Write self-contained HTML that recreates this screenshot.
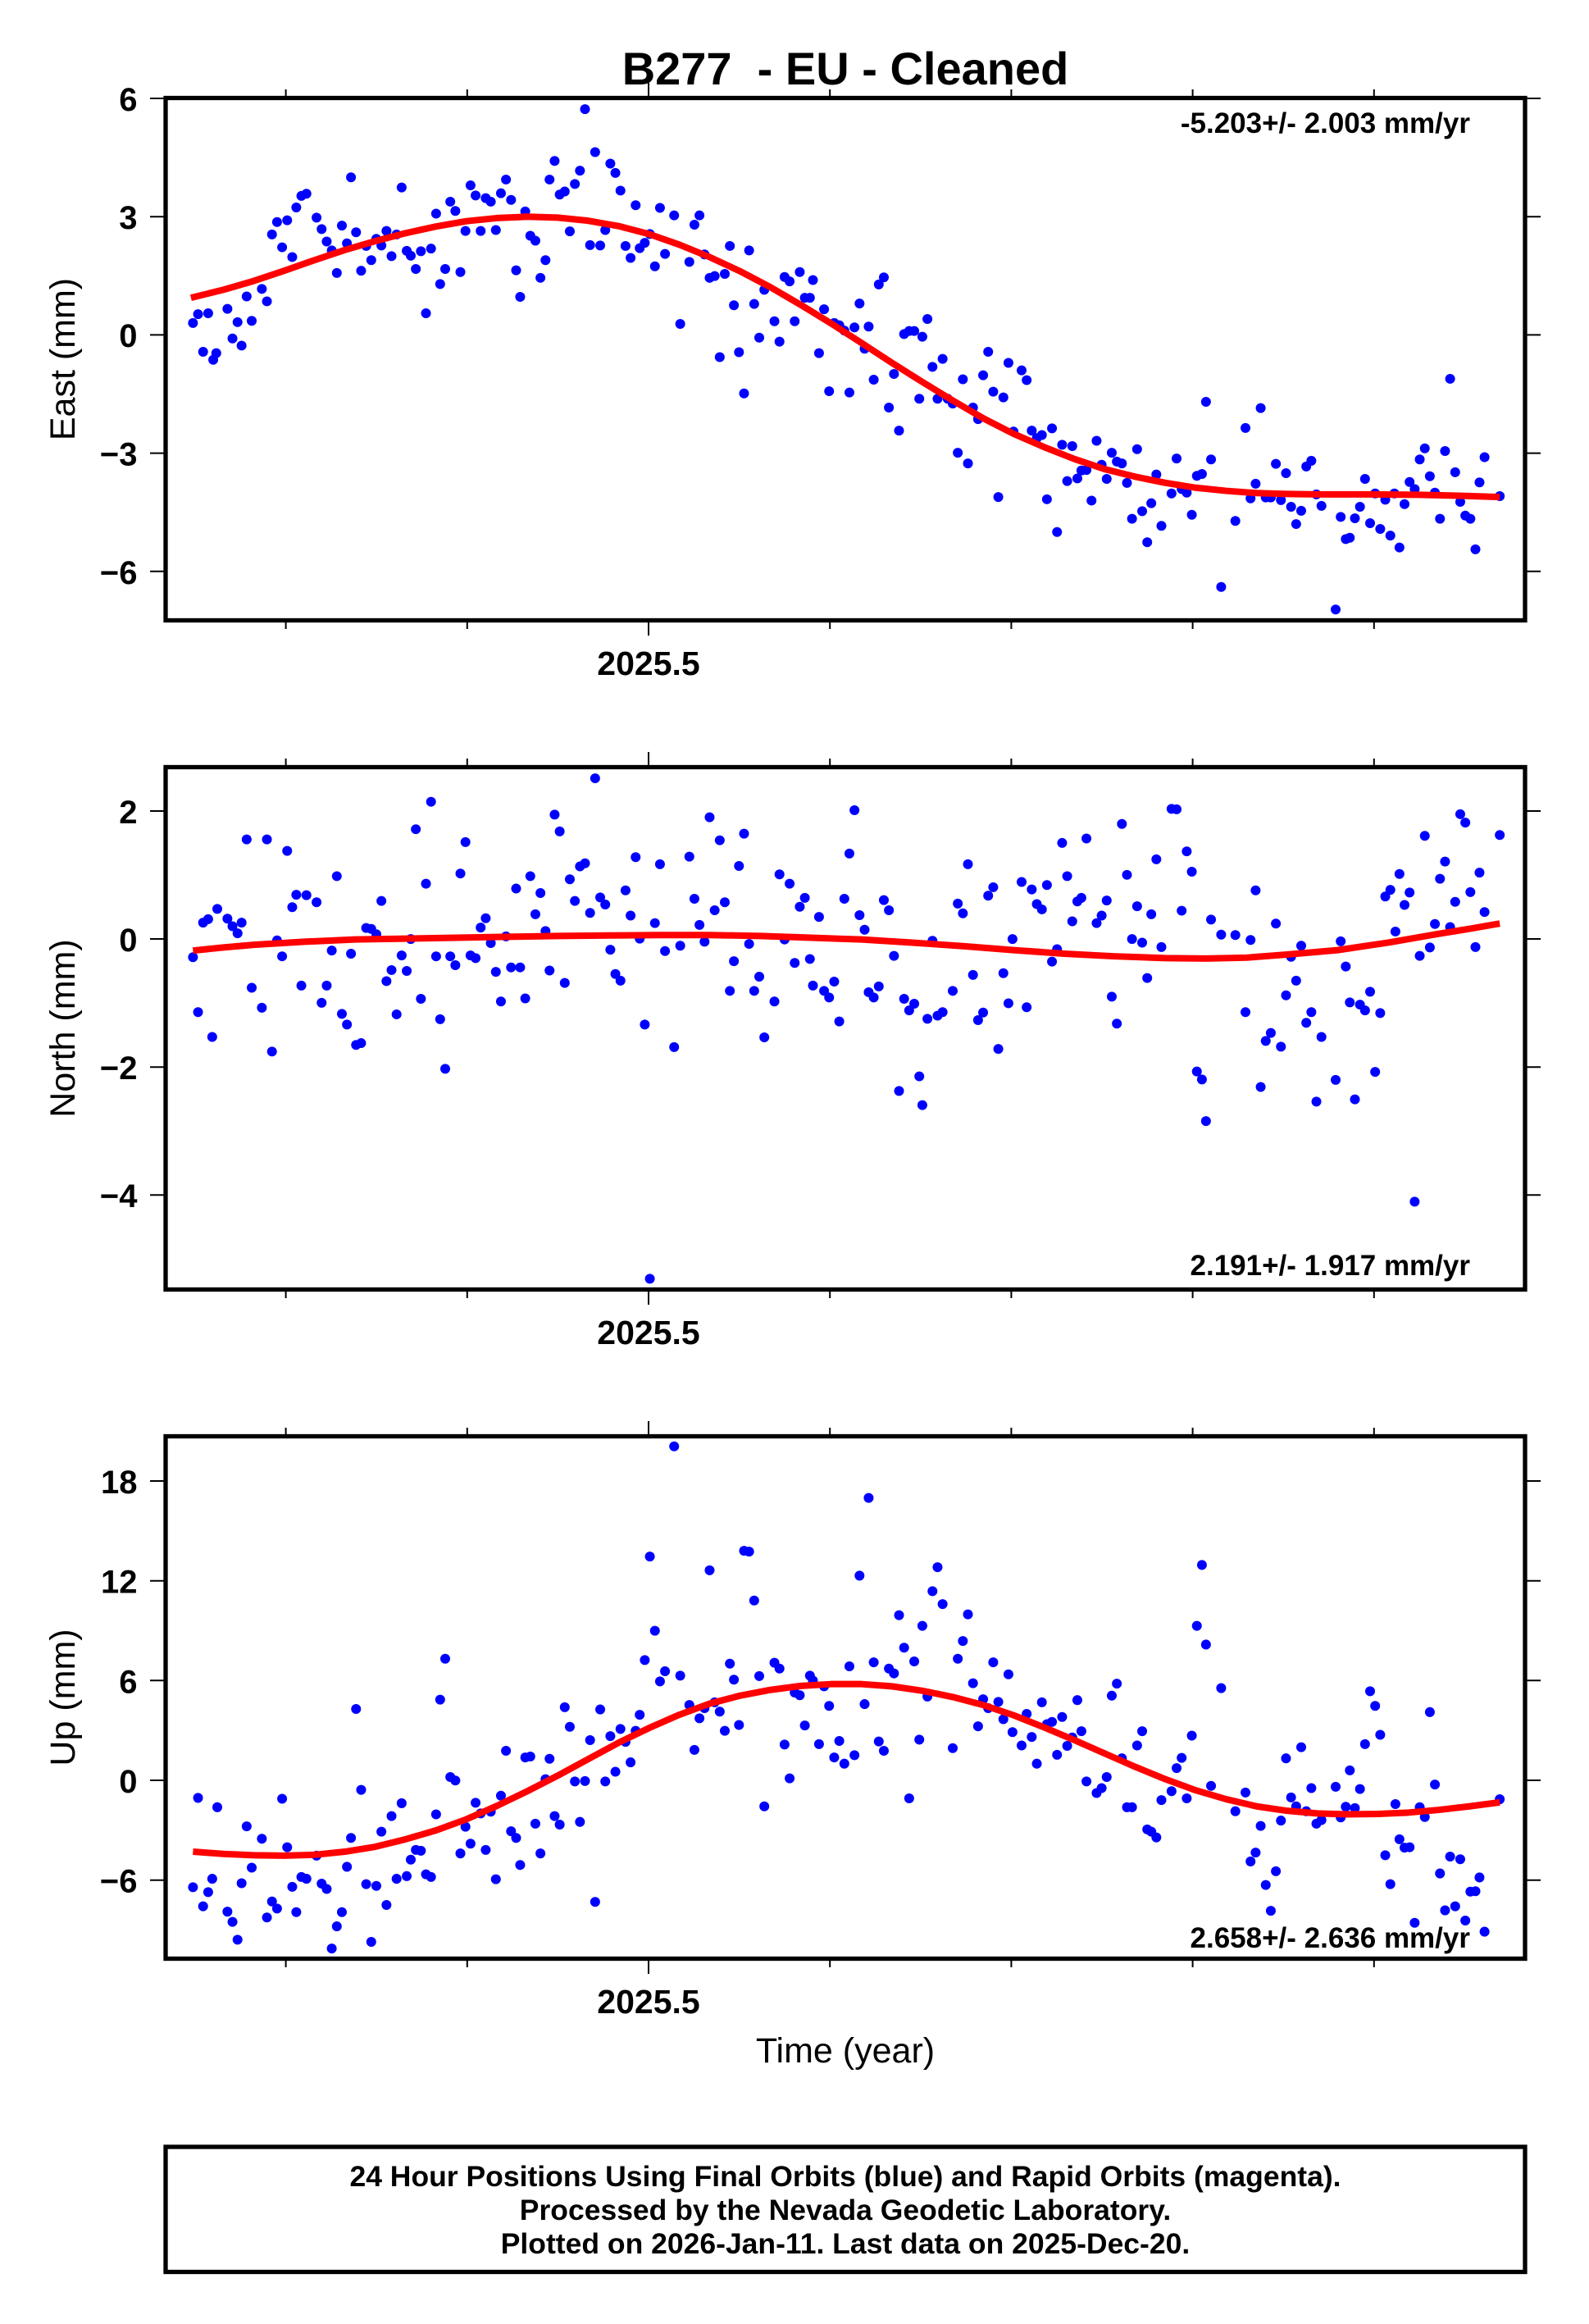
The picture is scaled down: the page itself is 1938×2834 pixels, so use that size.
<!DOCTYPE html>
<html><head><meta charset="utf-8"><style>
html,body{margin:0;padding:0;background:#fff}
svg{display:block}
text{font-family:"Liberation Sans",Arial,sans-serif;fill:#000}
.b{font-weight:bold}
.tk{stroke:#000;stroke-width:2;fill:none}
.fr{stroke:#000;stroke-width:5.3;fill:none}
.rl{stroke:#ff0000;stroke-width:8;fill:none;stroke-linejoin:round}
</style></head><body>
<svg width="1938" height="2834" viewBox="0 0 1938 2834" xmlns="http://www.w3.org/2000/svg">
<defs><ellipse id="e" cx="0" cy="0" rx="4.86" ry="11.1" fill="#0000ff"/></defs>
<rect x="0" y="0" width="1938" height="2834" fill="#fff"/>

<text class="b" x="1031" y="103" font-size="56" text-anchor="middle" style="white-space:pre">B277  - EU - Cleaned</text>

<!-- ================= PANEL 1 ================= -->
<g transform="matrix(1.2355,0,0,0.54,0.614,2.4)">
<use href="#e" x="190" y="725"/><use href="#e" x="195" y="705"/><use href="#e" x="200" y="790"/><use href="#e" x="205" y="703"/><use href="#e" x="210" y="808"/><use href="#e" x="213" y="793"/><use href="#e" x="224" y="693"/><use href="#e" x="229" y="760"/><use href="#e" x="234" y="723"/><use href="#e" x="238" y="776"/><use href="#e" x="243" y="665"/><use href="#e" x="248" y="720"/><use href="#e" x="258" y="648"/><use href="#e" x="263" y="676"/><use href="#e" x="268" y="525"/><use href="#e" x="273" y="497"/><use href="#e" x="278" y="554"/><use href="#e" x="283" y="493"/><use href="#e" x="288" y="576"/><use href="#e" x="292" y="464"/><use href="#e" x="297" y="438"/><use href="#e" x="302" y="433"/><use href="#e" x="312" y="487"/><use href="#e" x="317" y="513"/><use href="#e" x="322" y="541"/><use href="#e" x="327" y="561"/><use href="#e" x="332" y="612"/><use href="#e" x="337" y="505"/><use href="#e" x="342" y="545"/><use href="#e" x="346" y="396"/><use href="#e" x="351" y="520"/><use href="#e" x="356" y="607"/><use href="#e" x="361" y="551"/><use href="#e" x="366" y="583"/><use href="#e" x="371" y="535"/><use href="#e" x="376" y="550"/><use href="#e" x="381" y="517"/><use href="#e" x="386" y="574"/><use href="#e" x="391" y="525"/><use href="#e" x="396" y="419"/><use href="#e" x="401" y="562"/><use href="#e" x="405" y="573"/><use href="#e" x="410" y="603"/><use href="#e" x="415" y="563"/><use href="#e" x="420" y="703"/><use href="#e" x="425" y="557"/><use href="#e" x="430" y="478"/><use href="#e" x="434" y="637"/><use href="#e" x="439" y="603"/><use href="#e" x="444" y="451"/><use href="#e" x="449" y="472"/><use href="#e" x="454" y="610"/><use href="#e" x="459" y="517"/><use href="#e" x="464" y="414"/><use href="#e" x="469" y="437"/><use href="#e" x="474" y="517"/><use href="#e" x="479" y="443"/><use href="#e" x="484" y="451"/><use href="#e" x="489" y="515"/><use href="#e" x="494" y="432"/><use href="#e" x="499" y="401"/><use href="#e" x="504" y="447"/><use href="#e" x="509" y="606"/><use href="#e" x="513" y="666"/><use href="#e" x="518" y="473"/><use href="#e" x="523" y="528"/><use href="#e" x="528" y="539"/><use href="#e" x="533" y="623"/><use href="#e" x="538" y="583"/><use href="#e" x="542" y="401"/><use href="#e" x="547" y="359"/><use href="#e" x="552" y="435"/><use href="#e" x="557" y="428"/><use href="#e" x="562" y="518"/><use href="#e" x="567" y="411"/><use href="#e" x="572" y="381"/><use href="#e" x="577" y="242"/><use href="#e" x="582" y="549"/><use href="#e" x="587" y="339"/><use href="#e" x="592" y="550"/><use href="#e" x="597" y="515"/><use href="#e" x="602" y="365"/><use href="#e" x="607" y="386"/><use href="#e" x="612" y="426"/><use href="#e" x="617" y="551"/><use href="#e" x="622" y="578"/><use href="#e" x="627" y="459"/><use href="#e" x="631" y="556"/><use href="#e" x="636" y="544"/><use href="#e" x="641" y="524"/><use href="#e" x="646" y="597"/><use href="#e" x="651" y="465"/><use href="#e" x="656" y="569"/><use href="#e" x="665" y="482"/><use href="#e" x="671" y="727"/><use href="#e" x="680" y="587"/><use href="#e" x="685" y="503"/><use href="#e" x="690" y="482"/><use href="#e" x="695" y="570"/><use href="#e" x="700" y="623"/><use href="#e" x="705" y="619"/><use href="#e" x="710" y="802"/><use href="#e" x="715" y="614"/><use href="#e" x="720" y="551"/><use href="#e" x="724" y="685"/><use href="#e" x="729" y="791"/><use href="#e" x="734" y="884"/><use href="#e" x="739" y="561"/><use href="#e" x="744" y="682"/><use href="#e" x="749" y="758"/><use href="#e" x="754" y="650"/><use href="#e" x="764" y="721"/><use href="#e" x="769" y="767"/><use href="#e" x="774" y="621"/><use href="#e" x="779" y="631"/><use href="#e" x="784" y="721"/><use href="#e" x="789" y="610"/><use href="#e" x="794" y="668"/><use href="#e" x="799" y="668"/><use href="#e" x="802" y="628"/><use href="#e" x="808" y="793"/><use href="#e" x="813" y="694"/><use href="#e" x="818" y="879"/><use href="#e" x="823" y="725"/><use href="#e" x="828" y="730"/><use href="#e" x="833" y="742"/><use href="#e" x="838" y="882"/><use href="#e" x="843" y="735"/><use href="#e" x="848" y="681"/><use href="#e" x="853" y="783"/><use href="#e" x="857" y="733"/><use href="#e" x="862" y="853"/><use href="#e" x="867" y="638"/><use href="#e" x="872" y="622"/><use href="#e" x="877" y="916"/><use href="#e" x="882" y="840"/><use href="#e" x="887" y="968"/><use href="#e" x="892" y="750"/><use href="#e" x="897" y="743"/><use href="#e" x="902" y="743"/><use href="#e" x="907" y="896"/><use href="#e" x="910" y="756"/><use href="#e" x="915" y="716"/><use href="#e" x="920" y="824"/><use href="#e" x="925" y="896"/><use href="#e" x="930" y="806"/><use href="#e" x="935" y="896"/><use href="#e" x="940" y="907"/><use href="#e" x="945" y="1018"/><use href="#e" x="950" y="852"/><use href="#e" x="955" y="1042"/><use href="#e" x="960" y="916"/><use href="#e" x="965" y="942"/><use href="#e" x="970" y="843"/><use href="#e" x="975" y="790"/><use href="#e" x="980" y="880"/><use href="#e" x="985" y="1118"/><use href="#e" x="990" y="893"/><use href="#e" x="995" y="815"/><use href="#e" x="1000" y="970"/><use href="#e" x="1008" y="832"/><use href="#e" x="1013" y="854"/><use href="#e" x="1018" y="968"/><use href="#e" x="1023" y="985"/><use href="#e" x="1028" y="978"/><use href="#e" x="1033" y="1123"/><use href="#e" x="1038" y="963"/><use href="#e" x="1043" y="1197"/><use href="#e" x="1048" y="1000"/><use href="#e" x="1053" y="1082"/><use href="#e" x="1058" y="1003"/><use href="#e" x="1063" y="1076"/><use href="#e" x="1067" y="1058"/><use href="#e" x="1072" y="1057"/><use href="#e" x="1077" y="1126"/><use href="#e" x="1082" y="991"/><use href="#e" x="1087" y="1045"/><use href="#e" x="1092" y="1077"/><use href="#e" x="1097" y="1018"/><use href="#e" x="1102" y="1038"/><use href="#e" x="1107" y="1042"/><use href="#e" x="1112" y="1086"/><use href="#e" x="1117" y="1167"/><use href="#e" x="1122" y="1010"/><use href="#e" x="1127" y="1150"/><use href="#e" x="1132" y="1220"/><use href="#e" x="1136" y="1132"/><use href="#e" x="1141" y="1067"/><use href="#e" x="1146" y="1183"/><use href="#e" x="1156" y="1110"/><use href="#e" x="1161" y="1031"/><use href="#e" x="1166" y="1100"/><use href="#e" x="1171" y="1108"/><use href="#e" x="1176" y="1158"/><use href="#e" x="1181" y="1070"/><use href="#e" x="1186" y="1066"/><use href="#e" x="1190" y="903"/><use href="#e" x="1195" y="1033"/><use href="#e" x="1205" y="1321"/><use href="#e" x="1219" y="1172"/><use href="#e" x="1229" y="962"/><use href="#e" x="1234" y="1121"/><use href="#e" x="1239" y="1088"/><use href="#e" x="1244" y="917"/><use href="#e" x="1249" y="1119"/><use href="#e" x="1254" y="1119"/><use href="#e" x="1259" y="1043"/><use href="#e" x="1264" y="1125"/><use href="#e" x="1269" y="1064"/><use href="#e" x="1274" y="1140"/><use href="#e" x="1279" y="1179"/><use href="#e" x="1284" y="1149"/><use href="#e" x="1289" y="1049"/><use href="#e" x="1294" y="1036"/><use href="#e" x="1299" y="1112"/><use href="#e" x="1304" y="1138"/><use href="#e" x="1318" y="1372"/><use href="#e" x="1323" y="1163"/><use href="#e" x="1328" y="1213"/><use href="#e" x="1332" y="1210"/><use href="#e" x="1337" y="1166"/><use href="#e" x="1342" y="1140"/><use href="#e" x="1347" y="1077"/><use href="#e" x="1352" y="1177"/><use href="#e" x="1357" y="1110"/><use href="#e" x="1362" y="1190"/><use href="#e" x="1367" y="1124"/><use href="#e" x="1372" y="1205"/><use href="#e" x="1376" y="1110"/><use href="#e" x="1381" y="1232"/><use href="#e" x="1386" y="1134"/><use href="#e" x="1391" y="1084"/><use href="#e" x="1396" y="1100"/><use href="#e" x="1401" y="1033"/><use href="#e" x="1406" y="1008"/><use href="#e" x="1411" y="1071"/><use href="#e" x="1416" y="1108"/><use href="#e" x="1421" y="1167"/><use href="#e" x="1426" y="1014"/><use href="#e" x="1431" y="851"/><use href="#e" x="1436" y="1062"/><use href="#e" x="1441" y="1129"/><use href="#e" x="1446" y="1160"/><use href="#e" x="1451" y="1167"/><use href="#e" x="1456" y="1236"/><use href="#e" x="1460" y="1085"/><use href="#e" x="1465" y="1028"/><use href="#e" x="1480" y="1116"/>
<polyline class="rl" vector-effect="non-scaling-stroke" points="188,668 220,650 250,630 280,607 310,583 340,560 370,540 400,522 430,507 460,495 490,488 520,485 550,487 580,494 610,506 640,524 670,548 700,576 730,608 760,644 790,684 820,726 850,770 880,815 910,858 940,900 970,940 1000,975 1030,1005 1060,1032 1090,1055 1120,1072 1150,1086 1180,1097 1210,1104 1240,1109 1270,1111 1300,1112 1350,1112 1400,1113 1440,1115 1480,1118"/>
</g>
<rect class="fr" x="202" y="119.5" width="1658" height="637"/>
<path class="tk" d="M183 120H200M183 264.2H200M183 408.4H200M183 552.6H200M183 696.8H200M1862 120H1879M1862 264.2H1879M1862 408.4H1879M1862 552.6H1879M1862 696.8H1879M348.6 109V118M569.8 109V118M1012.2 109V118M1233.4 109V118M1454.6 109V118M1675.8 109V118M791 101V118M348.6 758V767M569.8 758V767M1012.2 758V767M1233.4 758V767M1454.6 758V767M1675.8 758V767M791 758V775"/>
<g class="b" font-size="40" text-anchor="end">
<text x="167.5" y="135">6</text><text x="167.5" y="279">3</text><text x="167.5" y="423">0</text><text x="167.5" y="567.5">−3</text><text x="167.5" y="712">−6</text>
</g>
<text class="b" x="791" y="823" font-size="41" text-anchor="middle">2025.5</text>
<text x="0" y="0" font-size="43" text-anchor="middle" transform="translate(91,438) rotate(-90)">East (mm)</text>
<text class="b" x="1793" y="162" font-size="35" text-anchor="end">-5.203+/- 2.003 mm/yr</text>

<!-- ================= PANEL 2 ================= -->
<g transform="matrix(1.2355,0,0,0.5401,0.614,882.1)">
<use href="#e" x="190" y="528"/><use href="#e" x="195" y="652"/><use href="#e" x="200" y="450"/><use href="#e" x="205" y="442"/><use href="#e" x="209" y="708"/><use href="#e" x="214" y="419"/><use href="#e" x="224" y="441"/><use href="#e" x="229" y="458"/><use href="#e" x="234" y="474"/><use href="#e" x="238" y="450"/><use href="#e" x="243" y="262"/><use href="#e" x="248" y="597"/><use href="#e" x="258" y="642"/><use href="#e" x="263" y="262"/><use href="#e" x="268" y="741"/><use href="#e" x="273" y="490"/><use href="#e" x="278" y="526"/><use href="#e" x="283" y="288"/><use href="#e" x="288" y="415"/><use href="#e" x="292" y="387"/><use href="#e" x="297" y="592"/><use href="#e" x="302" y="388"/><use href="#e" x="312" y="404"/><use href="#e" x="317" y="631"/><use href="#e" x="322" y="592"/><use href="#e" x="327" y="513"/><use href="#e" x="332" y="345"/><use href="#e" x="337" y="656"/><use href="#e" x="342" y="680"/><use href="#e" x="346" y="520"/><use href="#e" x="351" y="726"/><use href="#e" x="356" y="722"/><use href="#e" x="361" y="462"/><use href="#e" x="366" y="464"/><use href="#e" x="371" y="476"/><use href="#e" x="376" y="401"/><use href="#e" x="381" y="582"/><use href="#e" x="386" y="557"/><use href="#e" x="391" y="657"/><use href="#e" x="396" y="524"/><use href="#e" x="401" y="559"/><use href="#e" x="405" y="487"/><use href="#e" x="410" y="239"/><use href="#e" x="415" y="622"/><use href="#e" x="420" y="362"/><use href="#e" x="425" y="177"/><use href="#e" x="430" y="526"/><use href="#e" x="434" y="668"/><use href="#e" x="439" y="780"/><use href="#e" x="444" y="526"/><use href="#e" x="449" y="546"/><use href="#e" x="454" y="339"/><use href="#e" x="459" y="268"/><use href="#e" x="464" y="524"/><use href="#e" x="469" y="530"/><use href="#e" x="474" y="461"/><use href="#e" x="479" y="440"/><use href="#e" x="484" y="496"/><use href="#e" x="489" y="561"/><use href="#e" x="494" y="628"/><use href="#e" x="499" y="481"/><use href="#e" x="504" y="551"/><use href="#e" x="509" y="373"/><use href="#e" x="513" y="551"/><use href="#e" x="518" y="621"/><use href="#e" x="523" y="345"/><use href="#e" x="528" y="431"/><use href="#e" x="533" y="383"/><use href="#e" x="538" y="469"/><use href="#e" x="542" y="558"/><use href="#e" x="547" y="206"/><use href="#e" x="552" y="244"/><use href="#e" x="557" y="586"/><use href="#e" x="562" y="352"/><use href="#e" x="567" y="401"/><use href="#e" x="572" y="323"/><use href="#e" x="577" y="316"/><use href="#e" x="582" y="428"/><use href="#e" x="587" y="124"/><use href="#e" x="592" y="393"/><use href="#e" x="597" y="409"/><use href="#e" x="602" y="511"/><use href="#e" x="607" y="566"/><use href="#e" x="612" y="581"/><use href="#e" x="617" y="377"/><use href="#e" x="622" y="434"/><use href="#e" x="627" y="302"/><use href="#e" x="631" y="486"/><use href="#e" x="636" y="680"/><use href="#e" x="641" y="1254"/><use href="#e" x="646" y="451"/><use href="#e" x="651" y="318"/><use href="#e" x="656" y="514"/><use href="#e" x="665" y="731"/><use href="#e" x="671" y="502"/><use href="#e" x="680" y="301"/><use href="#e" x="685" y="396"/><use href="#e" x="690" y="455"/><use href="#e" x="695" y="493"/><use href="#e" x="700" y="212"/><use href="#e" x="705" y="422"/><use href="#e" x="710" y="264"/><use href="#e" x="715" y="404"/><use href="#e" x="720" y="604"/><use href="#e" x="724" y="537"/><use href="#e" x="729" y="322"/><use href="#e" x="734" y="249"/><use href="#e" x="739" y="498"/><use href="#e" x="744" y="604"/><use href="#e" x="749" y="572"/><use href="#e" x="754" y="709"/><use href="#e" x="764" y="628"/><use href="#e" x="769" y="341"/><use href="#e" x="774" y="488"/><use href="#e" x="779" y="362"/><use href="#e" x="784" y="541"/><use href="#e" x="789" y="414"/><use href="#e" x="794" y="394"/><use href="#e" x="799" y="532"/><use href="#e" x="802" y="592"/><use href="#e" x="808" y="437"/><use href="#e" x="813" y="604"/><use href="#e" x="818" y="619"/><use href="#e" x="823" y="583"/><use href="#e" x="828" y="673"/><use href="#e" x="833" y="396"/><use href="#e" x="838" y="294"/><use href="#e" x="843" y="196"/><use href="#e" x="848" y="433"/><use href="#e" x="853" y="466"/><use href="#e" x="857" y="607"/><use href="#e" x="862" y="619"/><use href="#e" x="867" y="594"/><use href="#e" x="872" y="399"/><use href="#e" x="877" y="422"/><use href="#e" x="882" y="525"/><use href="#e" x="887" y="830"/><use href="#e" x="892" y="622"/><use href="#e" x="897" y="648"/><use href="#e" x="902" y="633"/><use href="#e" x="907" y="797"/><use href="#e" x="910" y="862"/><use href="#e" x="915" y="667"/><use href="#e" x="920" y="491"/><use href="#e" x="925" y="660"/><use href="#e" x="930" y="652"/><use href="#e" x="940" y="604"/><use href="#e" x="945" y="407"/><use href="#e" x="950" y="429"/><use href="#e" x="955" y="318"/><use href="#e" x="960" y="568"/><use href="#e" x="965" y="670"/><use href="#e" x="970" y="653"/><use href="#e" x="975" y="389"/><use href="#e" x="980" y="370"/><use href="#e" x="985" y="735"/><use href="#e" x="990" y="564"/><use href="#e" x="995" y="632"/><use href="#e" x="999" y="487"/><use href="#e" x="1008" y="358"/><use href="#e" x="1013" y="641"/><use href="#e" x="1018" y="375"/><use href="#e" x="1023" y="408"/><use href="#e" x="1028" y="420"/><use href="#e" x="1033" y="365"/><use href="#e" x="1038" y="538"/><use href="#e" x="1043" y="510"/><use href="#e" x="1048" y="270"/><use href="#e" x="1053" y="345"/><use href="#e" x="1058" y="447"/><use href="#e" x="1063" y="402"/><use href="#e" x="1067" y="394"/><use href="#e" x="1072" y="260"/><use href="#e" x="1082" y="451"/><use href="#e" x="1087" y="434"/><use href="#e" x="1092" y="400"/><use href="#e" x="1097" y="617"/><use href="#e" x="1102" y="678"/><use href="#e" x="1107" y="227"/><use href="#e" x="1112" y="342"/><use href="#e" x="1117" y="487"/><use href="#e" x="1122" y="413"/><use href="#e" x="1127" y="495"/><use href="#e" x="1132" y="575"/><use href="#e" x="1136" y="431"/><use href="#e" x="1141" y="307"/><use href="#e" x="1146" y="505"/><use href="#e" x="1156" y="193"/><use href="#e" x="1161" y="194"/><use href="#e" x="1166" y="423"/><use href="#e" x="1171" y="289"/><use href="#e" x="1176" y="335"/><use href="#e" x="1181" y="786"/><use href="#e" x="1186" y="804"/><use href="#e" x="1190" y="898"/><use href="#e" x="1195" y="443"/><use href="#e" x="1205" y="477"/><use href="#e" x="1219" y="478"/><use href="#e" x="1229" y="652"/><use href="#e" x="1234" y="489"/><use href="#e" x="1239" y="377"/><use href="#e" x="1244" y="821"/><use href="#e" x="1249" y="717"/><use href="#e" x="1254" y="699"/><use href="#e" x="1259" y="452"/><use href="#e" x="1264" y="730"/><use href="#e" x="1269" y="614"/><use href="#e" x="1274" y="527"/><use href="#e" x="1279" y="581"/><use href="#e" x="1284" y="502"/><use href="#e" x="1289" y="676"/><use href="#e" x="1294" y="652"/><use href="#e" x="1299" y="854"/><use href="#e" x="1304" y="708"/><use href="#e" x="1318" y="805"/><use href="#e" x="1323" y="492"/><use href="#e" x="1328" y="549"/><use href="#e" x="1332" y="630"/><use href="#e" x="1337" y="849"/><use href="#e" x="1342" y="635"/><use href="#e" x="1347" y="648"/><use href="#e" x="1352" y="606"/><use href="#e" x="1357" y="787"/><use href="#e" x="1362" y="654"/><use href="#e" x="1367" y="391"/><use href="#e" x="1372" y="376"/><use href="#e" x="1377" y="470"/><use href="#e" x="1381" y="340"/><use href="#e" x="1386" y="410"/><use href="#e" x="1391" y="382"/><use href="#e" x="1396" y="1080"/><use href="#e" x="1401" y="525"/><use href="#e" x="1406" y="254"/><use href="#e" x="1411" y="506"/><use href="#e" x="1416" y="453"/><use href="#e" x="1421" y="351"/><use href="#e" x="1426" y="312"/><use href="#e" x="1431" y="460"/><use href="#e" x="1436" y="403"/><use href="#e" x="1441" y="205"/><use href="#e" x="1446" y="224"/><use href="#e" x="1451" y="381"/><use href="#e" x="1456" y="505"/><use href="#e" x="1460" y="337"/><use href="#e" x="1465" y="426"/><use href="#e" x="1480" y="252"/>
<polyline class="rl" vector-effect="non-scaling-stroke" points="190,513 220,506 250,500 300,493 350,488 400,486 450,484 500,482 550,480 600,479 650,478 700,478 750,480 800,484 850,488 900,495 950,503 1000,512 1050,520 1100,526 1150,530 1190,531 1230,529 1270,522 1320,512 1370,495 1420,475 1450,464 1480,452"/>
</g>
<rect class="fr" x="202" y="935.5" width="1658" height="637"/>
<path class="tk" d="M183 989H200M183 1145H200M183 1301.2H200M183 1457.3H200M1862 989H1879M1862 1145H1879M1862 1301.2H1879M1862 1457.3H1879M348.6 925V934M569.8 925V934M1012.2 925V934M1233.4 925V934M1454.6 925V934M1675.8 925V934M791 917V934M348.6 1574V1583M569.8 1574V1583M1012.2 1574V1583M1233.4 1574V1583M1454.6 1574V1583M1675.8 1574V1583M791 1574V1591"/>
<g class="b" font-size="40" text-anchor="end">
<text x="167.5" y="1004">2</text><text x="167.5" y="1160">0</text><text x="167.5" y="1316">−2</text><text x="167.5" y="1472">−4</text>
</g>
<text class="b" x="791" y="1639" font-size="41" text-anchor="middle">2025.5</text>
<text x="0" y="0" font-size="43" text-anchor="middle" transform="translate(91,1254) rotate(-90)">North (mm)</text>
<text class="b" x="1793" y="1555" font-size="35" text-anchor="end">2.191+/- 1.917 mm/yr</text>

<!-- ================= PANEL 3 ================= -->
<g transform="matrix(1.2355,0,0,0.542,0.614,1690)">
<use href="#e" x="190" y="1128"/><use href="#e" x="195" y="927"/><use href="#e" x="200" y="1171"/><use href="#e" x="205" y="1139"/><use href="#e" x="209" y="1109"/><use href="#e" x="214" y="948"/><use href="#e" x="224" y="1183"/><use href="#e" x="229" y="1206"/><use href="#e" x="234" y="1246"/><use href="#e" x="238" y="1119"/><use href="#e" x="243" y="991"/><use href="#e" x="248" y="1084"/><use href="#e" x="258" y="1019"/><use href="#e" x="263" y="1196"/><use href="#e" x="268" y="1160"/><use href="#e" x="273" y="1176"/><use href="#e" x="278" y="929"/><use href="#e" x="283" y="1038"/><use href="#e" x="288" y="1127"/><use href="#e" x="292" y="1184"/><use href="#e" x="297" y="1105"/><use href="#e" x="302" y="1109"/><use href="#e" x="312" y="1057"/><use href="#e" x="317" y="1120"/><use href="#e" x="322" y="1132"/><use href="#e" x="327" y="1266"/><use href="#e" x="332" y="1216"/><use href="#e" x="337" y="1184"/><use href="#e" x="342" y="1082"/><use href="#e" x="346" y="1017"/><use href="#e" x="351" y="727"/><use href="#e" x="356" y="909"/><use href="#e" x="361" y="1121"/><use href="#e" x="366" y="1251"/><use href="#e" x="371" y="1125"/><use href="#e" x="376" y="1003"/><use href="#e" x="381" y="1168"/><use href="#e" x="386" y="968"/><use href="#e" x="391" y="1109"/><use href="#e" x="396" y="939"/><use href="#e" x="401" y="1103"/><use href="#e" x="405" y="1066"/><use href="#e" x="410" y="1044"/><use href="#e" x="415" y="1046"/><use href="#e" x="420" y="1099"/><use href="#e" x="425" y="1105"/><use href="#e" x="430" y="964"/><use href="#e" x="434" y="706"/><use href="#e" x="439" y="614"/><use href="#e" x="444" y="880"/><use href="#e" x="449" y="888"/><use href="#e" x="454" y="1052"/><use href="#e" x="459" y="992"/><use href="#e" x="464" y="1030"/><use href="#e" x="469" y="938"/><use href="#e" x="474" y="962"/><use href="#e" x="479" y="1044"/><use href="#e" x="484" y="958"/><use href="#e" x="489" y="1110"/><use href="#e" x="494" y="922"/><use href="#e" x="499" y="821"/><use href="#e" x="504" y="1002"/><use href="#e" x="509" y="1017"/><use href="#e" x="513" y="1078"/><use href="#e" x="518" y="836"/><use href="#e" x="523" y="834"/><use href="#e" x="528" y="985"/><use href="#e" x="533" y="1052"/><use href="#e" x="538" y="885"/><use href="#e" x="542" y="839"/><use href="#e" x="547" y="968"/><use href="#e" x="552" y="987"/><use href="#e" x="557" y="723"/><use href="#e" x="562" y="767"/><use href="#e" x="567" y="890"/><use href="#e" x="572" y="981"/><use href="#e" x="577" y="889"/><use href="#e" x="582" y="797"/><use href="#e" x="587" y="1161"/><use href="#e" x="592" y="728"/><use href="#e" x="597" y="890"/><use href="#e" x="602" y="788"/><use href="#e" x="607" y="868"/><use href="#e" x="612" y="772"/><use href="#e" x="617" y="801"/><use href="#e" x="622" y="847"/><use href="#e" x="627" y="776"/><use href="#e" x="631" y="740"/><use href="#e" x="636" y="617"/><use href="#e" x="641" y="384"/><use href="#e" x="646" y="551"/><use href="#e" x="651" y="665"/><use href="#e" x="656" y="642"/><use href="#e" x="665" y="136"/><use href="#e" x="671" y="652"/><use href="#e" x="680" y="718"/><use href="#e" x="685" y="819"/><use href="#e" x="690" y="748"/><use href="#e" x="695" y="725"/><use href="#e" x="700" y="415"/><use href="#e" x="705" y="712"/><use href="#e" x="710" y="733"/><use href="#e" x="715" y="776"/><use href="#e" x="720" y="625"/><use href="#e" x="724" y="661"/><use href="#e" x="729" y="763"/><use href="#e" x="734" y="371"/><use href="#e" x="739" y="373"/><use href="#e" x="744" y="483"/><use href="#e" x="749" y="653"/><use href="#e" x="754" y="946"/><use href="#e" x="764" y="623"/><use href="#e" x="769" y="636"/><use href="#e" x="774" y="807"/><use href="#e" x="779" y="883"/><use href="#e" x="784" y="690"/><use href="#e" x="789" y="696"/><use href="#e" x="794" y="764"/><use href="#e" x="799" y="652"/><use href="#e" x="802" y="663"/><use href="#e" x="808" y="806"/><use href="#e" x="813" y="676"/><use href="#e" x="818" y="720"/><use href="#e" x="823" y="836"/><use href="#e" x="828" y="799"/><use href="#e" x="833" y="850"/><use href="#e" x="838" y="631"/><use href="#e" x="843" y="831"/><use href="#e" x="848" y="427"/><use href="#e" x="853" y="716"/><use href="#e" x="857" y="252"/><use href="#e" x="862" y="622"/><use href="#e" x="867" y="800"/><use href="#e" x="872" y="821"/><use href="#e" x="877" y="636"/><use href="#e" x="882" y="647"/><use href="#e" x="887" y="516"/><use href="#e" x="892" y="589"/><use href="#e" x="897" y="928"/><use href="#e" x="902" y="620"/><use href="#e" x="907" y="796"/><use href="#e" x="910" y="540"/><use href="#e" x="915" y="699"/><use href="#e" x="920" y="462"/><use href="#e" x="925" y="408"/><use href="#e" x="930" y="491"/><use href="#e" x="940" y="815"/><use href="#e" x="945" y="614"/><use href="#e" x="950" y="574"/><use href="#e" x="955" y="514"/><use href="#e" x="960" y="669"/><use href="#e" x="965" y="766"/><use href="#e" x="970" y="705"/><use href="#e" x="975" y="725"/><use href="#e" x="980" y="622"/><use href="#e" x="985" y="711"/><use href="#e" x="990" y="750"/><use href="#e" x="995" y="649"/><use href="#e" x="999" y="779"/><use href="#e" x="1008" y="809"/><use href="#e" x="1013" y="738"/><use href="#e" x="1018" y="790"/><use href="#e" x="1023" y="850"/><use href="#e" x="1028" y="712"/><use href="#e" x="1033" y="761"/><use href="#e" x="1038" y="756"/><use href="#e" x="1043" y="830"/><use href="#e" x="1048" y="745"/><use href="#e" x="1053" y="810"/><use href="#e" x="1058" y="791"/><use href="#e" x="1063" y="707"/><use href="#e" x="1067" y="777"/><use href="#e" x="1072" y="890"/><use href="#e" x="1082" y="916"/><use href="#e" x="1087" y="905"/><use href="#e" x="1092" y="880"/><use href="#e" x="1097" y="697"/><use href="#e" x="1102" y="670"/><use href="#e" x="1107" y="838"/><use href="#e" x="1112" y="948"/><use href="#e" x="1117" y="948"/><use href="#e" x="1122" y="809"/><use href="#e" x="1127" y="777"/><use href="#e" x="1132" y="998"/><use href="#e" x="1136" y="1003"/><use href="#e" x="1141" y="1016"/><use href="#e" x="1146" y="932"/><use href="#e" x="1156" y="912"/><use href="#e" x="1161" y="860"/><use href="#e" x="1166" y="837"/><use href="#e" x="1171" y="928"/><use href="#e" x="1176" y="787"/><use href="#e" x="1181" y="540"/><use href="#e" x="1186" y="403"/><use href="#e" x="1190" y="582"/><use href="#e" x="1195" y="900"/><use href="#e" x="1205" y="680"/><use href="#e" x="1219" y="957"/><use href="#e" x="1229" y="915"/><use href="#e" x="1234" y="1070"/><use href="#e" x="1239" y="1050"/><use href="#e" x="1244" y="990"/><use href="#e" x="1249" y="1123"/><use href="#e" x="1254" y="1181"/><use href="#e" x="1259" y="1092"/><use href="#e" x="1264" y="978"/><use href="#e" x="1269" y="838"/><use href="#e" x="1274" y="926"/><use href="#e" x="1279" y="946"/><use href="#e" x="1284" y="813"/><use href="#e" x="1289" y="957"/><use href="#e" x="1294" y="905"/><use href="#e" x="1299" y="985"/><use href="#e" x="1304" y="977"/><use href="#e" x="1318" y="902"/><use href="#e" x="1323" y="971"/><use href="#e" x="1328" y="947"/><use href="#e" x="1332" y="865"/><use href="#e" x="1337" y="950"/><use href="#e" x="1342" y="907"/><use href="#e" x="1347" y="806"/><use href="#e" x="1352" y="687"/><use href="#e" x="1357" y="720"/><use href="#e" x="1362" y="785"/><use href="#e" x="1367" y="1056"/><use href="#e" x="1372" y="1121"/><use href="#e" x="1377" y="941"/><use href="#e" x="1381" y="1020"/><use href="#e" x="1386" y="1039"/><use href="#e" x="1391" y="1038"/><use href="#e" x="1396" y="1208"/><use href="#e" x="1401" y="948"/><use href="#e" x="1406" y="970"/><use href="#e" x="1411" y="734"/><use href="#e" x="1416" y="897"/><use href="#e" x="1421" y="1097"/><use href="#e" x="1426" y="1180"/><use href="#e" x="1431" y="1059"/><use href="#e" x="1436" y="1171"/><use href="#e" x="1441" y="1065"/><use href="#e" x="1446" y="1203"/><use href="#e" x="1451" y="1138"/><use href="#e" x="1456" y="1137"/><use href="#e" x="1460" y="1106"/><use href="#e" x="1465" y="1228"/><use href="#e" x="1480" y="930"/>
<polyline class="rl" vector-effect="non-scaling-stroke" points="190,1048 220,1053 250,1056 280,1057 310,1055 340,1048 370,1037 400,1020 430,1000 460,975 490,945 520,912 550,877 580,840 610,803 640,770 670,740 700,715 730,697 760,684 790,675 820,671 850,671 880,676 910,686 940,700 970,718 1000,741 1030,768 1060,797 1090,827 1120,857 1150,885 1180,910 1210,930 1240,946 1270,956 1300,962 1330,964 1360,963 1390,960 1420,954 1450,946 1480,937"/>
</g>
<rect class="fr" x="202" y="1751.5" width="1658" height="637"/>
<path class="tk" d="M183 1806H200M183 1927.7H200M183 2049.3H200M183 2171H200M183 2292.7H200M1862 1806H1879M1862 1927.7H1879M1862 2049.3H1879M1862 2171H1879M1862 2292.7H1879M348.6 1741V1750M569.8 1741V1750M1012.2 1741V1750M1233.4 1741V1750M1454.6 1741V1750M1675.8 1741V1750M791 1733V1750M348.6 2390V2399M569.8 2390V2399M1012.2 2390V2399M1233.4 2390V2399M1454.6 2390V2399M1675.8 2390V2399M791 2390V2407"/>
<g class="b" font-size="40" text-anchor="end">
<text x="167.5" y="1821">18</text><text x="167.5" y="1942.7">12</text><text x="167.5" y="2064.3">6</text><text x="167.5" y="2186">0</text><text x="167.5" y="2307.7">−6</text>
</g>
<text class="b" x="791" y="2455" font-size="41" text-anchor="middle">2025.5</text>
<text x="0" y="0" font-size="43" text-anchor="middle" transform="translate(91,2070) rotate(-90)">Up (mm)</text>
<text class="b" x="1793" y="2375" font-size="35" text-anchor="end">2.658+/- 2.636 mm/yr</text>
<text x="1031" y="2515" font-size="43" text-anchor="middle">Time (year)</text>

<!-- ================= FOOTER ================= -->
<rect class="fr" x="202" y="2618" width="1658" height="152.5"/>
<g class="b" font-size="35.5" text-anchor="middle">
<text x="1031" y="2666">24 Hour Positions Using Final Orbits (blue) and Rapid Orbits (magenta).</text>
<text x="1031" y="2707">Processed by the Nevada Geodetic Laboratory.</text>
<text x="1031" y="2748">Plotted on 2026-Jan-11. Last data on 2025-Dec-20.</text>
</g>
</svg>
</body></html>
